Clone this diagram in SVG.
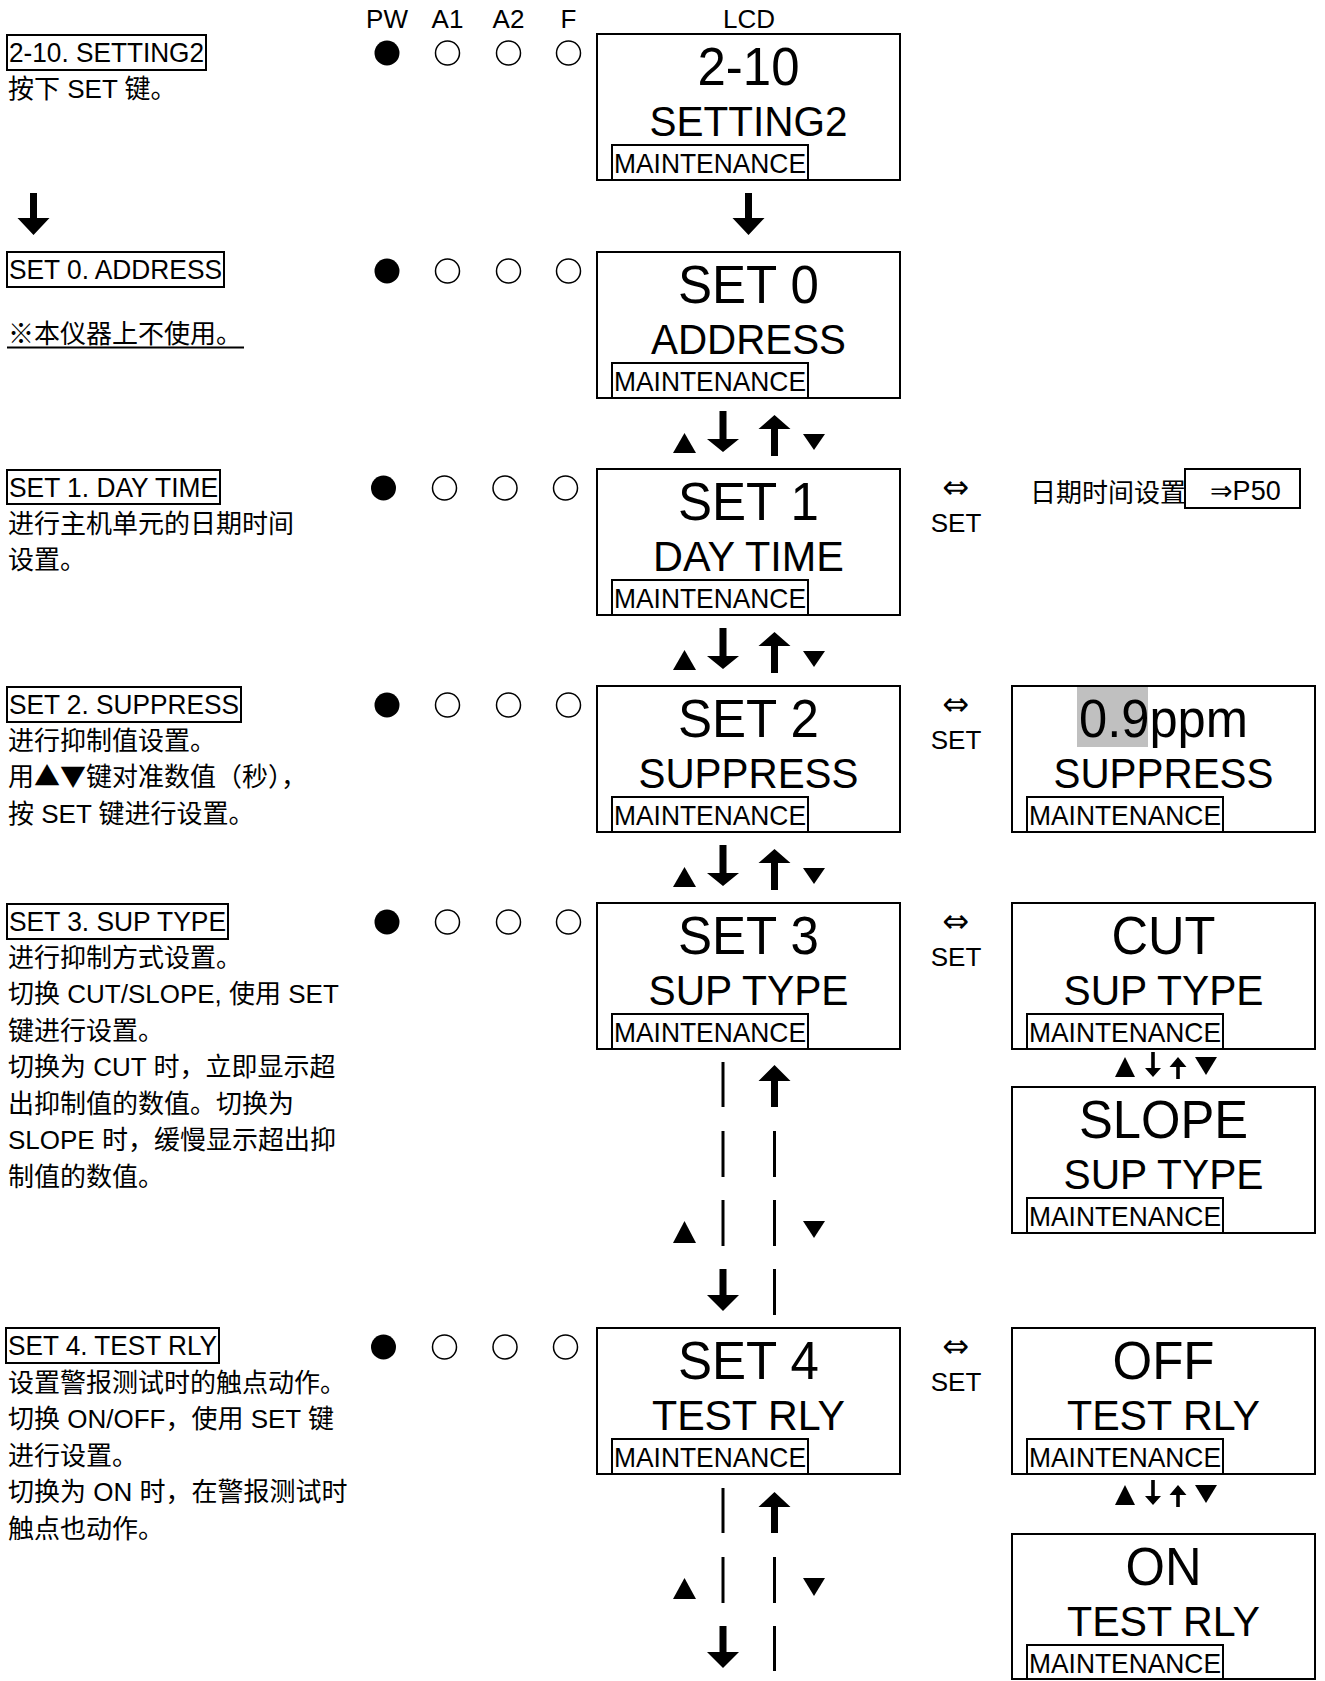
<svg xmlns="http://www.w3.org/2000/svg" width="1325" height="1681" viewBox="0 0 1325 1681">
<style>
text{font-family:"Liberation Sans","Noto Sans CJK SC",sans-serif;fill:#000}
.hdr{font-size:26px;text-anchor:middle}
.box{fill:none;stroke:#000;stroke-width:2}
.l1{font-size:54px;text-anchor:middle}
.l2{font-size:43px;text-anchor:middle}
.mt{font-size:28px}
.hd{font-size:28px}
.tx{font-size:26px}
.cjk{font-family:"Noto Sans CJK SC",sans-serif}
.on{fill:#000}
.off{fill:none;stroke:#000;stroke-width:1.5}
.seg{stroke:#000;stroke-width:3;fill:none}
.arr{fill:#000}
.sym{font-family:"DejaVu Sans",sans-serif;font-size:32px;text-anchor:middle}
.set{font-size:26px;text-anchor:middle}
</style>

<g id="header">
<text class="hdr" x="387" y="28">PW</text>
<text class="hdr" x="447.5" y="28">A1</text>
<text class="hdr" x="508.5" y="28">A2</text>
<text class="hdr" x="568.5" y="28">F</text>
<text class="hdr" x="749" y="28">LCD</text>
</g>

<!-- Row 1 -->
<g id="desc-2-10">
<rect class="box" x="7" y="35" width="199" height="35"/>
<text class="hd" x="9" y="62" textLength="195" lengthAdjust="spacingAndGlyphs">2-10. SETTING2</text>
<text class="tx" x="8" y="98">按下 SET 键。</text>
</g>
<g id="led-2-10">
<circle class="on" cx="387" cy="53" r="12.5"/>
<circle class="off" cx="447.5" cy="53" r="12"/>
<circle class="off" cx="508.5" cy="53" r="12"/>
<circle class="off" cx="568.5" cy="53" r="12"/>
</g>
<g id="lcd-2-10">
<rect class="box" x="597" y="34" width="303" height="146"/>
<text class="l1" x="748.5" y="85" textLength="102" lengthAdjust="spacingAndGlyphs">2-10</text>
<text class="l2" x="748.5" y="136" textLength="198" lengthAdjust="spacingAndGlyphs">SETTING2</text>
<rect class="box" x="612" y="145" width="196" height="35"/>
<text class="mt" x="614" y="173" textLength="192" lengthAdjust="spacingAndGlyphs">MAINTENANCE</text>
</g>

<!-- Row 2 -->
<g id="desc-set0">
<rect class="box" x="7" y="252" width="217" height="35"/>
<text class="hd" x="9" y="279" textLength="213" lengthAdjust="spacingAndGlyphs">SET 0. ADDRESS</text>
<text class="tx" x="8" y="343"><tspan class="cjk">※</tspan>本仪器上不使用。</text>
<line x1="7" y1="347.5" x2="244" y2="347.5" stroke="#000" stroke-width="2"/>
</g>
<g id="led-set0">
<circle class="on" cx="387" cy="271" r="12.5"/>
<circle class="off" cx="447.5" cy="271" r="12"/>
<circle class="off" cx="508.5" cy="271" r="12"/>
<circle class="off" cx="568.5" cy="271" r="12"/>
</g>
<g id="lcd-set0">
<rect class="box" x="597" y="252" width="303" height="146"/>
<text class="l1" x="748.5" y="303" textLength="141" lengthAdjust="spacingAndGlyphs">SET 0</text>
<text class="l2" x="748.5" y="354" textLength="195" lengthAdjust="spacingAndGlyphs">ADDRESS</text>
<rect class="box" x="612" y="363" width="196" height="35"/>
<text class="mt" x="614" y="391" textLength="192" lengthAdjust="spacingAndGlyphs">MAINTENANCE</text>
</g>

<!-- Row 3 -->
<g id="desc-set1">
<rect class="box" x="7" y="470" width="213" height="34"/>
<text class="hd" x="9" y="497" textLength="209" lengthAdjust="spacingAndGlyphs">SET 1. DAY TIME</text>
<text class="tx" x="8" y="533">进行主机单元的日期时间</text>
<text class="tx" x="8" y="569">设置。</text>
</g>
<g id="led-set1">
<circle class="on" cx="383.5" cy="488" r="12.5"/>
<circle class="off" cx="444.5" cy="488" r="12"/>
<circle class="off" cx="505" cy="488" r="12"/>
<circle class="off" cx="565.5" cy="488" r="12"/>
</g>
<g id="lcd-set1">
<rect class="box" x="597" y="469" width="303" height="146"/>
<text class="l1" x="748.5" y="520" textLength="141" lengthAdjust="spacingAndGlyphs">SET 1</text>
<text class="l2" x="748.5" y="571" textLength="191" lengthAdjust="spacingAndGlyphs">DAY TIME</text>
<rect class="box" x="612" y="580" width="196" height="35"/>
<text class="mt" x="614" y="608" textLength="192" lengthAdjust="spacingAndGlyphs">MAINTENANCE</text>
</g>
<g id="ref-daytime">
<text class="tx" x="1030" y="502">日期时间设置</text>
<rect class="box" x="1185" y="469" width="115" height="39"/>
<text class="tx" x="1210" y="500" style="font-family:'Liberation Sans','DejaVu Sans',sans-serif;font-size:27px">⇒P50</text>
</g>

<!-- Row 4 -->
<g id="desc-set2">
<rect class="box" x="7" y="687" width="234" height="35"/>
<text class="hd" x="9" y="714" textLength="230" lengthAdjust="spacingAndGlyphs">SET 2. SUPPRESS</text>
<text class="tx" x="8" y="750">进行抑制值设置。</text>
<text class="tx" x="8" y="786">用<tspan class="cjk">▲▼</tspan>键对准数值（秒），</text>
<text class="tx" x="8" y="823">按 SET 键进行设置。</text>
</g>
<g id="led-set2">
<circle class="on" cx="387" cy="705" r="12.5"/>
<circle class="off" cx="447.5" cy="705" r="12"/>
<circle class="off" cx="508.5" cy="705" r="12"/>
<circle class="off" cx="568.5" cy="705" r="12"/>
</g>
<g id="lcd-set2">
<rect class="box" x="597" y="686" width="303" height="146"/>
<text class="l1" x="748.5" y="737" textLength="141" lengthAdjust="spacingAndGlyphs">SET 2</text>
<text class="l2" x="748.5" y="788" textLength="220" lengthAdjust="spacingAndGlyphs">SUPPRESS</text>
<rect class="box" x="612" y="797" width="196" height="35"/>
<text class="mt" x="614" y="825" textLength="192" lengthAdjust="spacingAndGlyphs">MAINTENANCE</text>
</g>
<g id="lcd-suppress-value">
<rect class="box" x="1012" y="686" width="303" height="146"/>
<rect x="1077" y="687" width="71" height="60" fill="#c0c0c0"/>
<text class="l1" x="1163.5" y="737" textLength="169" lengthAdjust="spacingAndGlyphs">0.9ppm</text>
<text class="l2" x="1163.5" y="788" textLength="220" lengthAdjust="spacingAndGlyphs">SUPPRESS</text>
<rect class="box" x="1027" y="797" width="196" height="35"/>
<text class="mt" x="1029" y="825" textLength="192" lengthAdjust="spacingAndGlyphs">MAINTENANCE</text>
</g>

<!-- Row 5 -->
<g id="desc-set3">
<rect class="box" x="7" y="904" width="221" height="35"/>
<text class="hd" x="9" y="931" textLength="217" lengthAdjust="spacingAndGlyphs">SET 3. SUP TYPE</text>
<text class="tx" x="8" y="967">进行抑制方式设置。</text>
<text class="tx" x="8" y="1003">切换 CUT/SLOPE, 使用 SET</text>
<text class="tx" x="8" y="1040">键进行设置。</text>
<text class="tx" x="8" y="1076">切换为 CUT 时，立即显示超</text>
<text class="tx" x="8" y="1113">出抑制值的数值。切换为</text>
<text class="tx" x="8" y="1149">SLOPE 时，缓慢显示超出抑</text>
<text class="tx" x="8" y="1186">制值的数值。</text>
</g>
<g id="led-set3">
<circle class="on" cx="387" cy="922" r="12.5"/>
<circle class="off" cx="447.5" cy="922" r="12"/>
<circle class="off" cx="508.5" cy="922" r="12"/>
<circle class="off" cx="568.5" cy="922" r="12"/>
</g>
<g id="lcd-set3">
<rect class="box" x="597" y="903" width="303" height="146"/>
<text class="l1" x="748.5" y="954" textLength="141" lengthAdjust="spacingAndGlyphs">SET 3</text>
<text class="l2" x="748.5" y="1005" textLength="200" lengthAdjust="spacingAndGlyphs">SUP TYPE</text>
<rect class="box" x="612" y="1014" width="196" height="35"/>
<text class="mt" x="614" y="1042" textLength="192" lengthAdjust="spacingAndGlyphs">MAINTENANCE</text>
</g>
<g id="lcd-cut">
<rect class="box" x="1012" y="903" width="303" height="146"/>
<text class="l1" x="1163.5" y="954" textLength="104" lengthAdjust="spacingAndGlyphs">CUT</text>
<text class="l2" x="1163.5" y="1005" textLength="200" lengthAdjust="spacingAndGlyphs">SUP TYPE</text>
<rect class="box" x="1027" y="1014" width="196" height="35"/>
<text class="mt" x="1029" y="1042" textLength="192" lengthAdjust="spacingAndGlyphs">MAINTENANCE</text>
</g>
<g id="lcd-slope">
<rect class="box" x="1012" y="1087" width="303" height="146"/>
<text class="l1" x="1163.5" y="1138" textLength="169" lengthAdjust="spacingAndGlyphs">SLOPE</text>
<text class="l2" x="1163.5" y="1189" textLength="200" lengthAdjust="spacingAndGlyphs">SUP TYPE</text>
<rect class="box" x="1027" y="1198" width="196" height="35"/>
<text class="mt" x="1029" y="1226" textLength="192" lengthAdjust="spacingAndGlyphs">MAINTENANCE</text>
</g>

<!-- Row 6 -->
<g id="desc-set4">
<rect class="box" x="6" y="1328" width="213" height="35"/>
<text class="hd" x="8" y="1355" textLength="209" lengthAdjust="spacingAndGlyphs">SET 4. TEST RLY</text>
<text class="tx" x="8" y="1392">设置警报测试时的触点动作。</text>
<text class="tx" x="8" y="1428">切换 ON/OFF，使用 SET 键</text>
<text class="tx" x="8" y="1465">进行设置。</text>
<text class="tx" x="8" y="1501">切换为 ON 时，在警报测试时</text>
<text class="tx" x="8" y="1538">触点也动作。</text>
</g>
<g id="led-set4">
<circle class="on" cx="383.5" cy="1347" r="12.5"/>
<circle class="off" cx="444.5" cy="1347" r="12"/>
<circle class="off" cx="505" cy="1347" r="12"/>
<circle class="off" cx="565.5" cy="1347" r="12"/>
</g>
<g id="lcd-set4">
<rect class="box" x="597" y="1328" width="303" height="146"/>
<text class="l1" x="748.5" y="1379" textLength="141" lengthAdjust="spacingAndGlyphs">SET 4</text>
<text class="l2" x="748.5" y="1430" textLength="193" lengthAdjust="spacingAndGlyphs">TEST RLY</text>
<rect class="box" x="612" y="1439" width="196" height="35"/>
<text class="mt" x="614" y="1467" textLength="192" lengthAdjust="spacingAndGlyphs">MAINTENANCE</text>
</g>
<g id="lcd-off">
<rect class="box" x="1012" y="1328" width="303" height="146"/>
<text class="l1" x="1163.5" y="1379" textLength="102" lengthAdjust="spacingAndGlyphs">OFF</text>
<text class="l2" x="1163.5" y="1430" textLength="193" lengthAdjust="spacingAndGlyphs">TEST RLY</text>
<rect class="box" x="1027" y="1439" width="196" height="35"/>
<text class="mt" x="1029" y="1467" textLength="192" lengthAdjust="spacingAndGlyphs">MAINTENANCE</text>
</g>
<g id="lcd-on">
<rect class="box" x="1012" y="1534" width="303" height="145"/>
<text class="l1" x="1163.5" y="1585" textLength="76" lengthAdjust="spacingAndGlyphs">ON</text>
<text class="l2" x="1163.5" y="1636" textLength="193" lengthAdjust="spacingAndGlyphs">TEST RLY</text>
<rect class="box" x="1027" y="1645" width="196" height="34"/>
<text class="mt" x="1029" y="1673" textLength="192" lengthAdjust="spacingAndGlyphs">MAINTENANCE</text>
</g>

<!-- Connectors -->
<g id="connectors">
<polygon class="arr" points="30,193 37,193 37,218 49.5,218 33.5,235 17.5,218 30,218"/>
<polygon class="arr" points="745,193 752,193 752,218 764.5,218 748.5,235 732.5,218 745,218"/>

<polygon class="arr" points="673,453 684.5,433 696,453"/>
<polygon class="arr" points="719.5,411 726.5,411 726.5,439 739,439 723,452 707,439 719.5,439"/>
<polygon class="arr" points="771,456 778,456 778,429 790.5,429 774.5,415 758.5,429 771,429"/>
<polygon class="arr" points="803,434 825,434 814,450"/>

<polygon class="arr" points="673,670 684.5,650 696,670"/>
<polygon class="arr" points="719.5,628 726.5,628 726.5,656 739,656 723,669 707,656 719.5,656"/>
<polygon class="arr" points="771,673 778,673 778,646 790.5,646 774.5,632 758.5,646 771,646"/>
<polygon class="arr" points="803,651 825,651 814,667"/>

<polygon class="arr" points="673,887 684.5,867 696,887"/>
<polygon class="arr" points="719.5,845 726.5,845 726.5,873 739,873 723,886 707,873 719.5,873"/>
<polygon class="arr" points="771,890 778,890 778,863 790.5,863 774.5,849 758.5,863 771,863"/>
<polygon class="arr" points="803,868 825,868 814,884"/>

<line class="seg" x1="723" y1="1062" x2="723" y2="1107"/>
<line class="seg" x1="723" y1="1131" x2="723" y2="1177"/>
<line class="seg" x1="723" y1="1200" x2="723" y2="1246"/>
<polygon class="arr" points="719.5,1269 726.5,1269 726.5,1295 739,1295 723,1311 707,1295 719.5,1295"/>
<polygon class="arr" points="771,1107 778,1107 778,1081 790.5,1081 774.5,1065 758.5,1081 771,1081"/>
<line class="seg" x1="774.5" y1="1131" x2="774.5" y2="1177"/>
<line class="seg" x1="774.5" y1="1200" x2="774.5" y2="1246"/>
<line class="seg" x1="774.5" y1="1269" x2="774.5" y2="1315"/>
<polygon class="arr" points="673,1243 684.5,1221 696,1243"/>
<polygon class="arr" points="803,1221 825,1221 814,1238"/>

<line class="seg" x1="723" y1="1488" x2="723" y2="1533"/>
<line class="seg" x1="723" y1="1557" x2="723" y2="1603"/>
<polygon class="arr" points="719.5,1626 726.5,1626 726.5,1652 739,1652 723,1668 707,1652 719.5,1652"/>
<polygon class="arr" points="771,1533 778,1533 778,1507 790.5,1507 774.5,1492 758.5,1507 771,1507"/>
<line class="seg" x1="774.5" y1="1557" x2="774.5" y2="1603"/>
<line class="seg" x1="774.5" y1="1626" x2="774.5" y2="1671"/>
<polygon class="arr" points="673,1599 684.5,1578 696,1599"/>
<polygon class="arr" points="803,1578 825,1578 814,1596"/>

<text class="sym" x="956" y="498">⇔</text>
<text class="set" x="956" y="532">SET</text>
<text class="sym" x="956" y="715">⇔</text>
<text class="set" x="956" y="749">SET</text>
<text class="sym" x="956" y="932">⇔</text>
<text class="set" x="956" y="966">SET</text>
<text class="sym" x="956" y="1357">⇔</text>
<text class="set" x="956" y="1391">SET</text>

<polygon class="arr" points="1115,1077 1125,1057 1135,1077"/>
<polygon class="arr" points="1151.2,1052 1154.8,1052 1154.8,1068 1161,1068 1153,1077 1145,1068 1151.2,1068"/>
<polygon class="arr" points="1176.2,1079 1179.8,1079 1179.8,1067 1186.5,1067 1178,1057 1169.5,1067 1176.2,1067"/>
<polygon class="arr" points="1195,1057 1217,1057 1206,1075"/>

<polygon class="arr" points="1115,1505 1125,1485 1135,1505"/>
<polygon class="arr" points="1151.2,1480 1154.8,1480 1154.8,1496 1161,1496 1153,1505 1145,1496 1151.2,1496"/>
<polygon class="arr" points="1176.2,1507 1179.8,1507 1179.8,1495 1186.5,1495 1178,1485 1169.5,1495 1176.2,1495"/>
<polygon class="arr" points="1195,1485 1217,1485 1206,1503"/>
</g>
</svg>
